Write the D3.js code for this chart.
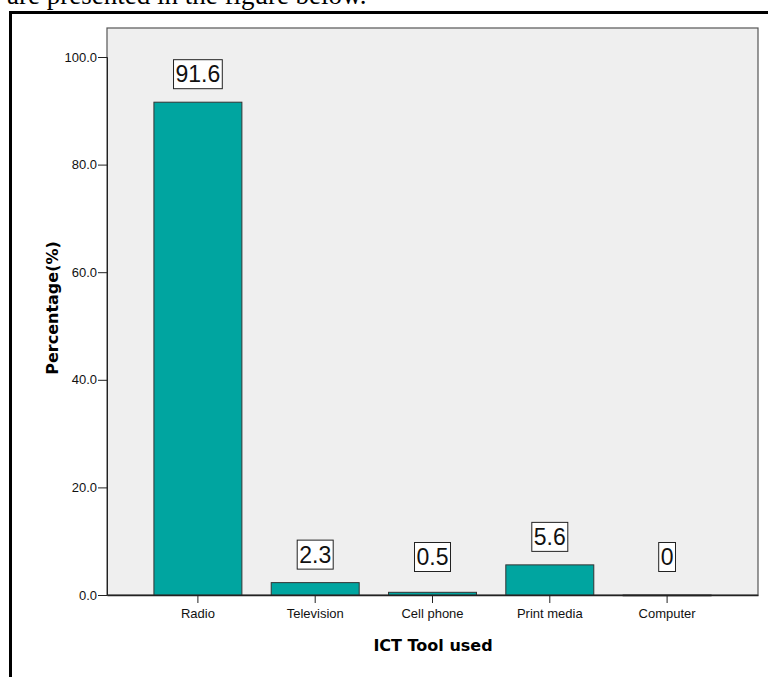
<!doctype html>
<html>
  <head>
    <meta charset="utf-8">
    <script src="https://cdn.jsdelivr.net/npm/d3@7"></script>
    <style>
      body { margin: 0; background: #fff; }
      svg { display: block; }
    </style>
  </head>
  <body>
    <svg width="768" height="677"></svg>
  <script>
    let tools = ["Radio", "Television", "Cell phone", "Print media", "Computer"]
    let percents = [91.6, 2.3, 0.5, 5.6, 0]
    let valueLabels = ["91.6", "2.3", "0.5", "5.6", "0"]
    let yTicks = [0, 20, 40, 60, 80, 100]

    let svg = d3.select("svg")

    // caption text cut off at the top of the page
    svg.append("text")
        .attr("x", 7).attr("y", 4)
        .attr("font-family", "Liberation Serif, Times New Roman, serif")
        .attr("font-size", 27)
        .text("are presented in the figure below.")

    // outer frame
    svg.append("rect")
        .attr("x", 10.5).attr("y", 12.5)
        .attr("width", 800).attr("height", 700)
        .attr("fill", "none").attr("stroke", "#000").attr("stroke-width", 3)

    let plotLeft = 107, plotRight = 758, plotTop = 28, plotBottom = 595

    let x = d3.scaleBand().domain(tools).range([plotLeft, plotRight])
              .paddingInner(0.25).paddingOuter(0.4)
    let y = d3.scaleLinear().domain([0, 100]).range([plotBottom, plotBottom - 538])

    svg.append("rect")
        .attr("x", plotLeft).attr("y", plotTop)
        .attr("width", plotRight - plotLeft).attr("height", plotBottom - plotTop)
        .attr("fill", "#efefef").attr("stroke", "#555").attr("stroke-width", 1.2)

    // bars
    svg.append("g").selectAll("rect")
      .data(percents)
      .enter().append("rect")
        .attr("x", (d, i) => x(tools[i]))
        .attr("width", x.bandwidth())
        .attr("y", d => y(d))
        .attr("height", d => Math.max(y(0) - y(d), 0.8))
        .attr("fill", "#00a5a0")
        .attr("stroke", "#333").attr("stroke-width", 1)

    // y axis
    let yAxis = svg.append("g")
        .attr("transform", `translate(${plotLeft},0)`)
        .call(d3.axisLeft(y).tickValues(yTicks).tickSize(9).tickFormat(d3.format(".1f")))
    yAxis.select(".domain").attr("stroke", "#222")
    yAxis.selectAll(".tick line").attr("stroke", "#222")
    yAxis.selectAll("text").attr("font-family", "Liberation Sans, Arial, sans-serif")
        .attr("font-size", 13).attr("fill", "#111").attr("x", -10)

    // x axis
    let xAxis = svg.append("g")
        .attr("transform", `translate(0,${plotBottom})`)
        .call(d3.axisBottom(x).tickSize(8).tickSizeOuter(0))
    xAxis.select(".domain").attr("stroke", "#222").attr("stroke-width", 1.5)
    xAxis.selectAll(".tick line").attr("stroke", "#222")
    xAxis.selectAll("text").attr("font-family", "Liberation Sans, Arial, sans-serif")
        .attr("font-size", 13).attr("fill", "#111").attr("y", 14)

    // value labels in boxes
    let labels = svg.append("g").selectAll("g")
      .data(percents)
      .enter().append("g")
        .attr("transform", (d, i) => {
          let cy = Math.min(y(d) - 28, y(0) - 38)
          return `translate(${x(tools[i]) + x.bandwidth() / 2},${cy})`
        })
    labels.append("rect").attr("class", "box")
    labels.append("text")
        .attr("text-anchor", "middle")
        .attr("dy", "0.36em")
        .attr("font-family", "Liberation Sans, Arial, sans-serif")
        .attr("font-size", 23)
        .attr("fill", "#111")
        .text((d, i) => valueLabels[i])
    labels.each(function() {
      let g = d3.select(this)
      let bb = g.select("text").node().getBBox()
      g.select("rect")
        .attr("x", bb.x - 2).attr("y", -14.5)
        .attr("width", bb.width + 4).attr("height", 29)
        .attr("fill", "#fff").attr("stroke", "#222").attr("stroke-width", 1)
    })

    // axis titles
    svg.append("text")
        .attr("x", 433).attr("y", 651)
        .attr("text-anchor", "middle")
        .attr("font-family", "DejaVu Sans, Verdana, sans-serif")
        .attr("font-weight", "bold").attr("font-size", 16)
        .text("ICT Tool used")

    svg.append("text")
        .attr("transform", "translate(58,308) rotate(-90)")
        .attr("text-anchor", "middle")
        .attr("font-family", "DejaVu Sans, Verdana, sans-serif")
        .attr("font-weight", "bold").attr("font-size", 16)
        .text("Percentage(%)")
  </script>
  </body>
</html>
